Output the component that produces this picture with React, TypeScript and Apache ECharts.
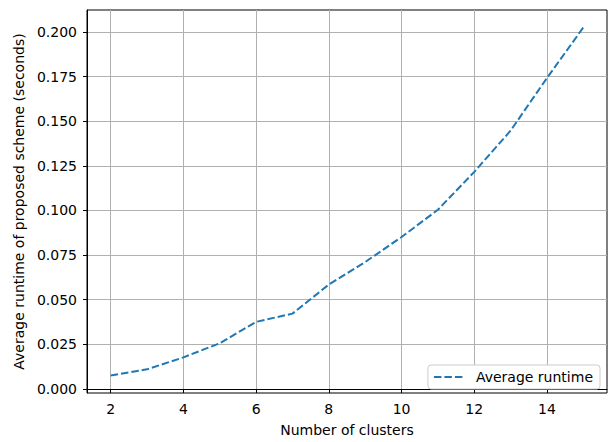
import React, { useEffect, useRef } from "react";
import * as echarts from "echarts";

const clusters = [2, 3, 4, 5, 6, 7, 8, 9, 10, 11, 12, 13, 14, 15];
const runtime = [0.0075, 0.011, 0.0177, 0.0256, 0.0376, 0.0422, 0.0585, 0.0711, 0.0851, 0.1004, 0.1216, 0.1447, 0.1742, 0.2025];
const xTicks = [2, 4, 6, 8, 10, 12, 14];
const yTicks = [0, 0.025, 0.05, 0.075, 0.1, 0.125, 0.15, 0.175, 0.2];
const seriesName = "Average runtime";
const xTitle = "Number of clusters";
const yTitle = "Average runtime of proposed scheme (seconds)";

const FONT = "DejaVu Sans";

export default function App() {
  const ref = useRef<HTMLDivElement>(null);
  useEffect(() => {
    if (!ref.current) return;
    const chart = echarts.init(ref.current, undefined, { renderer: "svg" });
    const axisCommon = {
      axisLine: { show: true, lineStyle: { color: "#000", width: 1 } },
      axisTick: { show: true, length: 4, inside: false, lineStyle: { color: "#000", width: 1 } },
      splitLine: { show: true, lineStyle: { color: "#b0b0b0", width: 1 } },
      nameTextStyle: { fontFamily: FONT, fontSize: 14, color: "#000" },
    };
    chart.setOption({
      animation: false,
      backgroundColor: "#fff",
      grid: {
        left: 87,
        top: 10,
        right: 4,
        bottom: 45,
        show: true,
        borderColor: "#000",
        borderWidth: 1,
        backgroundColor: "transparent",
      },
      xAxis: {
        type: "value",
        min: 1.35,
        max: 15.65,
        name: xTitle,
        nameLocation: "middle",
        nameGap: 30,
        ...axisCommon,
        axisTick: { ...axisCommon.axisTick, customValues: xTicks },
        axisLabel: {
          customValues: xTicks,
          fontFamily: FONT,
          fontSize: 14,
          color: "#000",
          margin: 9,
        },
      },
      yAxis: {
        type: "value",
        min: -0.00225,
        max: 0.21225,
        name: yTitle,
        nameLocation: "middle",
        nameGap: 59,
        ...axisCommon,
        axisTick: { ...axisCommon.axisTick, customValues: yTicks },
        axisLabel: {
          customValues: yTicks,
          fontFamily: FONT,
          fontSize: 14,
          color: "#000",
          margin: 10,
          formatter: (v: number) => v.toFixed(3),
        },
      },
      legend: {
        right: 11,
        bottom: 53,
        orient: "horizontal",
        backgroundColor: "#fff",
        borderColor: "#cccccc",
        borderWidth: 1,
        borderRadius: 3,
        padding: [5, 7, 5, 5],
        itemWidth: 30,
        itemHeight: 14,
        itemGap: 8,
        itemStyle: { opacity: 0 },
        textStyle: { fontFamily: FONT, fontSize: 14, color: "#000", padding: [0, 0, 0, 7] },
        data: [seriesName],
      },
      series: [
        {
          name: seriesName,
          type: "line",
          data: clusters.map((c, i) => [c, runtime[i]]),
          showSymbol: false,
          symbol: "none",
          lineStyle: { color: "#1f77b4", width: 2, type: [7.5, 3] },
          itemStyle: { color: "#1f77b4" },
        },
      ],
    });
    return () => chart.dispose();
  }, []);
  return (
    <div
      ref={ref}
      style={{ position: "fixed", left: 0, top: 0, width: 611, height: 442, background: "#fff" }}
    />
  );
}
